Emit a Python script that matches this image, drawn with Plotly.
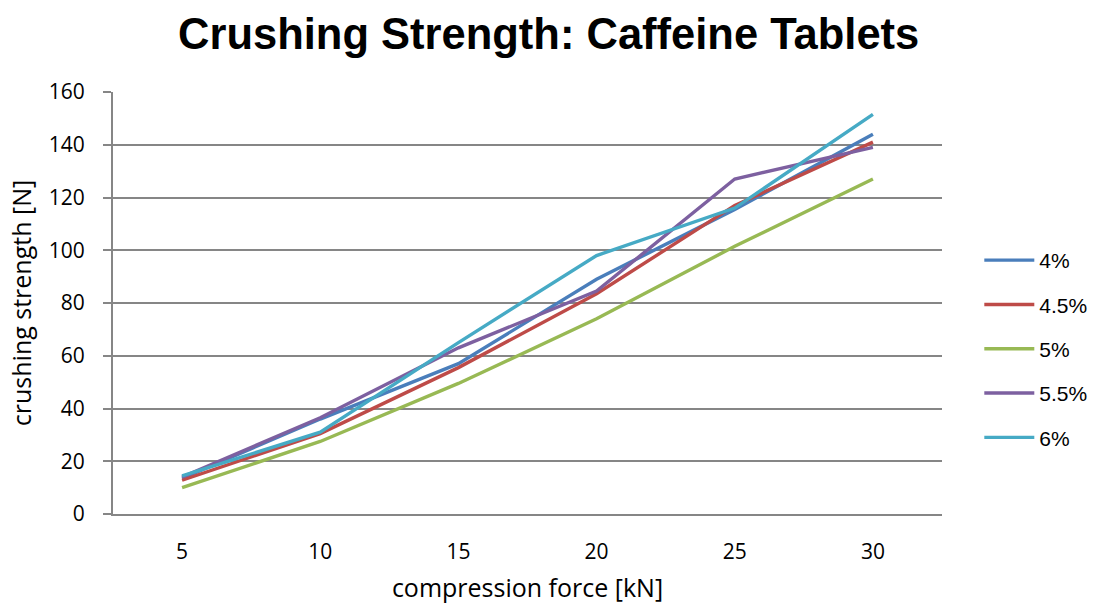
import plotly.graph_objects as go

# Compression force (kN) and crushing strength (N) per caffeine content
force_kn = [5, 10, 15, 20, 25, 30]
series_names = ["4%", "4.5%", "5%", "5.5%", "6%"]
strength_4 = [13.5, 36.0, 57.0, 89.0, 115.5, 144.0]
strength_4_5 = [12.8, 30.5, 55.5, 83.5, 117.0, 141.0]
strength_5 = [10.0, 27.5, 49.5, 74.0, 101.5, 127.0]
strength_5_5 = [14.0, 36.5, 63.0, 84.5, 127.0, 139.0]
strength_6 = [14.5, 31.0, 65.0, 98.0, 116.0, 151.5]
series_values = [strength_4, strength_4_5, strength_5, strength_5_5, strength_6]
colors = ["#4A7EBB", "#BE4B48", "#98B954", "#7D60A0", "#46AAC5"]

fig = go.Figure()
for i, (name, vals, col) in enumerate(zip(series_names, series_values, colors)):
    fig.add_trace(go.Scatter(
        x=force_kn, y=vals, name=name, mode="lines",
        line=dict(color=col, width=3.4),
        legendgroup=f"g{i}",
    ))

axis_font = dict(family="Open Sans, sans-serif", size=21, color="#000")
title_font = dict(family="Open Sans, sans-serif", size=25, color="#000")

fig.update_layout(
    width=1104, height=604,
    paper_bgcolor="white", plot_bgcolor="white",
    margin=dict(l=113, r=162, t=92, b=90),
    title=dict(
        text="<b>Crushing Strength: Caffeine Tablets</b>",
        font=dict(family="Liberation Sans, Arial, sans-serif", size=43.5, color="#000"),
        x=0.497, xanchor="center", y=0.969, yanchor="top",
    ),
    showlegend=True,
    legend=dict(
        x=1.045, xanchor="left", y=0.391, yanchor="middle",
        font=dict(family="Liberation Sans, Arial, sans-serif", size=21, color="#000"),
        traceorder="grouped", tracegroupgap=14, itemwidth=50,
        bgcolor="rgba(0,0,0,0)",
    ),
    xaxis=dict(
        range=[2.5, 32.5], tickvals=force_kn, ticktext=[str(v) for v in force_kn],
        showgrid=False, zeroline=False, automargin=False,
        showline=True, linecolor="#868686", linewidth=2,
        ticks="", tickfont=axis_font, ticklabelstandoff=18,
        title=dict(text="compression force [kN]", font=title_font, standoff=18),
        fixedrange=True,
    ),
    yaxis=dict(
        range=[0, 160], dtick=20,
        showgrid=True, gridcolor="#868686", gridwidth=2,
        zeroline=False, automargin=False,
        showline=True, linecolor="#868686", linewidth=2,
        ticks="outside", ticklen=8, tickcolor="#868686", tickwidth=2,
        tickfont=axis_font, ticklabelstandoff=14,
        title=dict(text="crushing strength [N]", font=title_font, standoff=10),
        fixedrange=True,
    ),
)

fig.write_html("out.html")
